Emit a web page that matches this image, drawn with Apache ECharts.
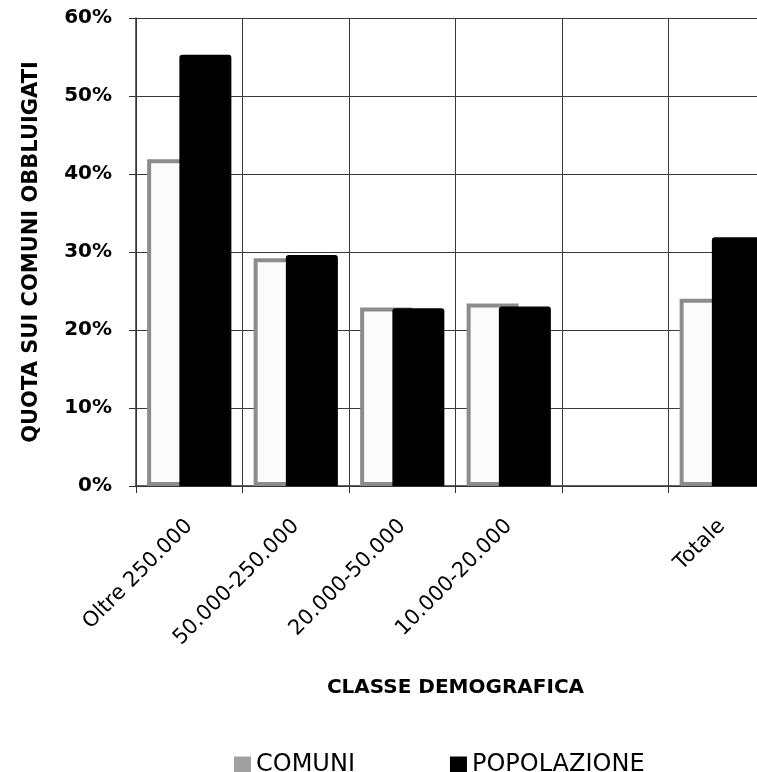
<!DOCTYPE html>
<html>
<head>
<meta charset="utf-8">
<script src="https://cdn.jsdelivr.net/npm/echarts@6/dist/echarts.min.js"></script>
<style>
html,body{margin:0;padding:0;background:#fff;}
#chart{width:757px;height:772px;}
</style>
</head>
<body>
<div id="chart"></div>
<script>
const categories = ['Oltre 250.000', '50.000-250.000', '20.000-50.000', '10.000-20.000', '', 'Totale'];
const comuni = [41.9, 29.2, 22.9, 23.4, null, 24.0];
const popolazione = [55.3, 29.6, 22.8, 23.0, null, 31.9];
const yTicks = [0, 10, 20, 30, 40, 50, 60];

const FONT = 'DejaVu Sans';
const chart = echarts.init(document.getElementById('chart'), null, {renderer: 'canvas'});
chart.setOption({
  backgroundColor: '#ffffff',
  animation: false,
  textStyle: {fontFamily: FONT, color: '#000'},
  grid: {left: 136, top: 18, right: -18, bottom: 286, containLabel: false, outerBoundsMode: 'none'},
  legend: {
    left: 229, top: 748,
    icon: 'rect',
    itemWidth: 17, itemHeight: 17, itemGap: 95,
    textStyle: {fontFamily: FONT, fontSize: 24, color: '#000'},
    data: [
      {name: 'COMUNI', itemStyle: {color: '#a0a0a0', borderWidth: 0}},
      {name: 'POPOLAZIONE', itemStyle: {color: '#000000', borderWidth: 0}}
    ]
  },
  xAxis: {
    type: 'category',
    data: categories,
    name: 'CLASSE DEMOGRAFICA',
    nameLocation: 'middle',
    nameGap: 192,
    nameTextStyle: {fontFamily: FONT, fontWeight: 'bold', fontSize: 20, color: '#000'},
    axisLine: {show: true, lineStyle: {color: '#333', width: 1.5}},
    axisTick: {show: true, length: 7, alignWithLabel: false, lineStyle: {color: '#333'}},
    axisLabel: {rotate: 45, margin: 37, interval: 0, fontFamily: FONT, fontSize: 21, color: '#000'},
    splitLine: {show: true, lineStyle: {color: '#3a3a3a', width: 1}}
  },
  yAxis: {
    type: 'value',
    min: yTicks[0], max: yTicks[yTicks.length - 1], interval: 10,
    name: 'QUOTA SUI COMUNI OBBLUIGATI',
    nameLocation: 'middle',
    nameGap: 94,
    nameTextStyle: {fontFamily: FONT, fontWeight: 'bold', fontSize: 21, color: '#000'},
    axisLine: {show: true, lineStyle: {color: '#333', width: 1.5}},
    axisTick: {show: true, length: 7, lineStyle: {color: '#333'}},
    axisLabel: {formatter: '{value}%', margin: 24, fontFamily: FONT, fontWeight: 'bold', fontSize: 20, color: '#000'},
    splitLine: {show: true, lineStyle: {color: '#3a3a3a', width: 1}}
  },
  series: [
    {
      name: 'COMUNI', type: 'bar', data: comuni,
      barWidth: 52, barGap: '-38%',
      itemStyle: {color: '#fbfbfb', borderColor: '#8c8c8c', borderWidth: 4}
    },
    {
      name: 'POPOLAZIONE', type: 'bar', data: popolazione,
      barWidth: 52, barGap: '-38%',
      itemStyle: {color: '#000000', borderRadius: [3, 3, 0, 0]}
    }
  ]
});
</script>
</body>
</html>
